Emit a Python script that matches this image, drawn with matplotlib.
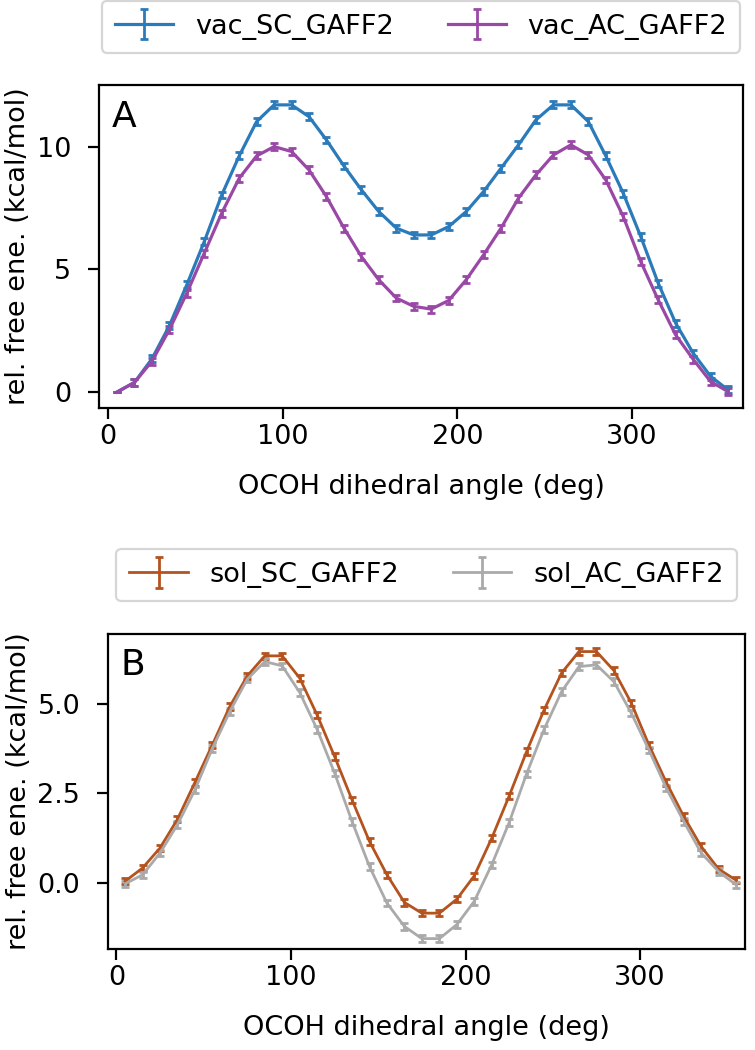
import matplotlib
matplotlib.use("Agg")
import matplotlib.pyplot as plt
from matplotlib.container import ErrorbarContainer
from matplotlib.legend_handler import HandlerErrorbar

angles = list(range(5, 360, 10))

vac_SC = [0.00, 0.39, 1.35, 2.70, 4.37, 6.13, 8.03, 9.62, 11.02, 11.70, 11.70, 11.22,
          10.27, 9.21, 8.24, 7.35, 6.68, 6.40, 6.40, 6.74, 7.35, 8.17, 9.12, 10.07,
          11.09, 11.70, 11.70, 11.02, 9.62, 8.10, 6.34, 4.44, 2.81, 1.59, 0.64, 0.09]
vac_AC = [0.00, 0.39, 1.25, 2.54, 4.03, 5.66, 7.29, 8.71, 9.62, 10.00, 9.80, 9.05,
          7.96, 6.68, 5.52, 4.57, 3.83, 3.49, 3.38, 3.73, 4.57, 5.59, 6.68, 7.90,
          8.85, 9.66, 10.07, 9.66, 8.64, 7.15, 5.32, 3.76, 2.33, 1.34, 0.43, 0.02]
sol_SC = [0.05, 0.42, 0.98, 1.78, 2.81, 3.86, 4.93, 5.78, 6.34, 6.34, 5.72, 4.69,
          3.53, 2.32, 1.16, 0.23, -0.54, -0.84, -0.84, -0.45, 0.20, 1.25, 2.43, 3.67,
          4.83, 5.86, 6.46, 6.46, 5.93, 5.02, 3.86, 2.81, 1.86, 1.02, 0.39, 0.08]
sol_AC = [-0.02, 0.23, 0.84, 1.63, 2.60, 3.76, 4.79, 5.69, 6.18, 6.06, 5.32, 4.29,
          3.07, 1.72, 0.46, -0.56, -1.21, -1.55, -1.55, -1.16, -0.51, 0.51, 1.69, 3.05,
          4.29, 5.34, 6.04, 6.09, 5.62, 4.74, 3.72, 2.65, 1.72, 0.84, 0.32, -0.05]
err_A = [0.0] + [0.14] * 35
err_B = [0.09] * 36

W, H = 755, 1050
fig = plt.figure(figsize=(W / 100, H / 100), dpi=100)
fs = 19.5

axA = fig.add_axes([99 / W, 1 - 408 / H, (743 - 99) / W, (408 - 85) / H])
axB = fig.add_axes([108 / W, 1 - 949 / H, (745 - 108) / W, (949 - 634) / H])

def draw(ax, ys, errs, colors, labels, lw):
    for y, c, lab in zip(ys, colors, labels):
        ax.errorbar(angles, y, yerr=errs, color=c, label=lab, lw=lw,
                    capsize=3.2, capthick=2.0, elinewidth=2.0)

draw(axA, [vac_SC, vac_AC], err_A, ['#2b7bba', '#9a48a6'], ['vac_SC_GAFF2', 'vac_AC_GAFF2'], 2.3)
draw(axB, [sol_SC, sol_AC], err_B, ['#b5531f', '#aaaaaa'], ['sol_SC_GAFF2', 'sol_AC_GAFF2'], 2.0)

axA.set_xlim(-5.3, 363.6)
axA.set_ylim(-0.65, 12.51)
axA.set_yticks([0, 5, 10])
axB.set_xlim(-4.8, 360.1)
axB.set_ylim(-1.84, 6.95)
axB.set_yticks([0.0, 2.5, 5.0])
axB.set_yticklabels(['0.0', '2.5', '5.0'])

for ax, letter, ly in [(axA, 'A', 1.10), (axB, 'B', 1.105)]:
    ax.set_xticks([0, 100, 200, 300])
    ax.tick_params(labelsize=fs, width=1.6, length=8)
    ax.tick_params(axis='y', pad=12)
    for s in ax.spines.values():
        s.set_linewidth(1.6)
    ax.set_xlabel('OCOH dihedral angle (deg)', fontsize=fs, labelpad=17)
    ax.set_ylabel('rel. free ene. (kcal/mol)', fontsize=fs)
    ax.text(0.02, 0.955, letter, transform=ax.transAxes, fontsize=26, va='top', ha='left')
    leg = ax.legend(loc='lower center', bbox_to_anchor=(0.5, ly), ncol=2, fontsize=fs,
                    borderaxespad=0.0, columnspacing=2.0, handlelength=2.15,
                    borderpad=0.48,
                    handler_map={ErrorbarContainer: HandlerErrorbar(yerr_size=0.56)})
    leg.get_frame().set_linewidth(1.6)

fig.savefig('out.png', dpi=100)
